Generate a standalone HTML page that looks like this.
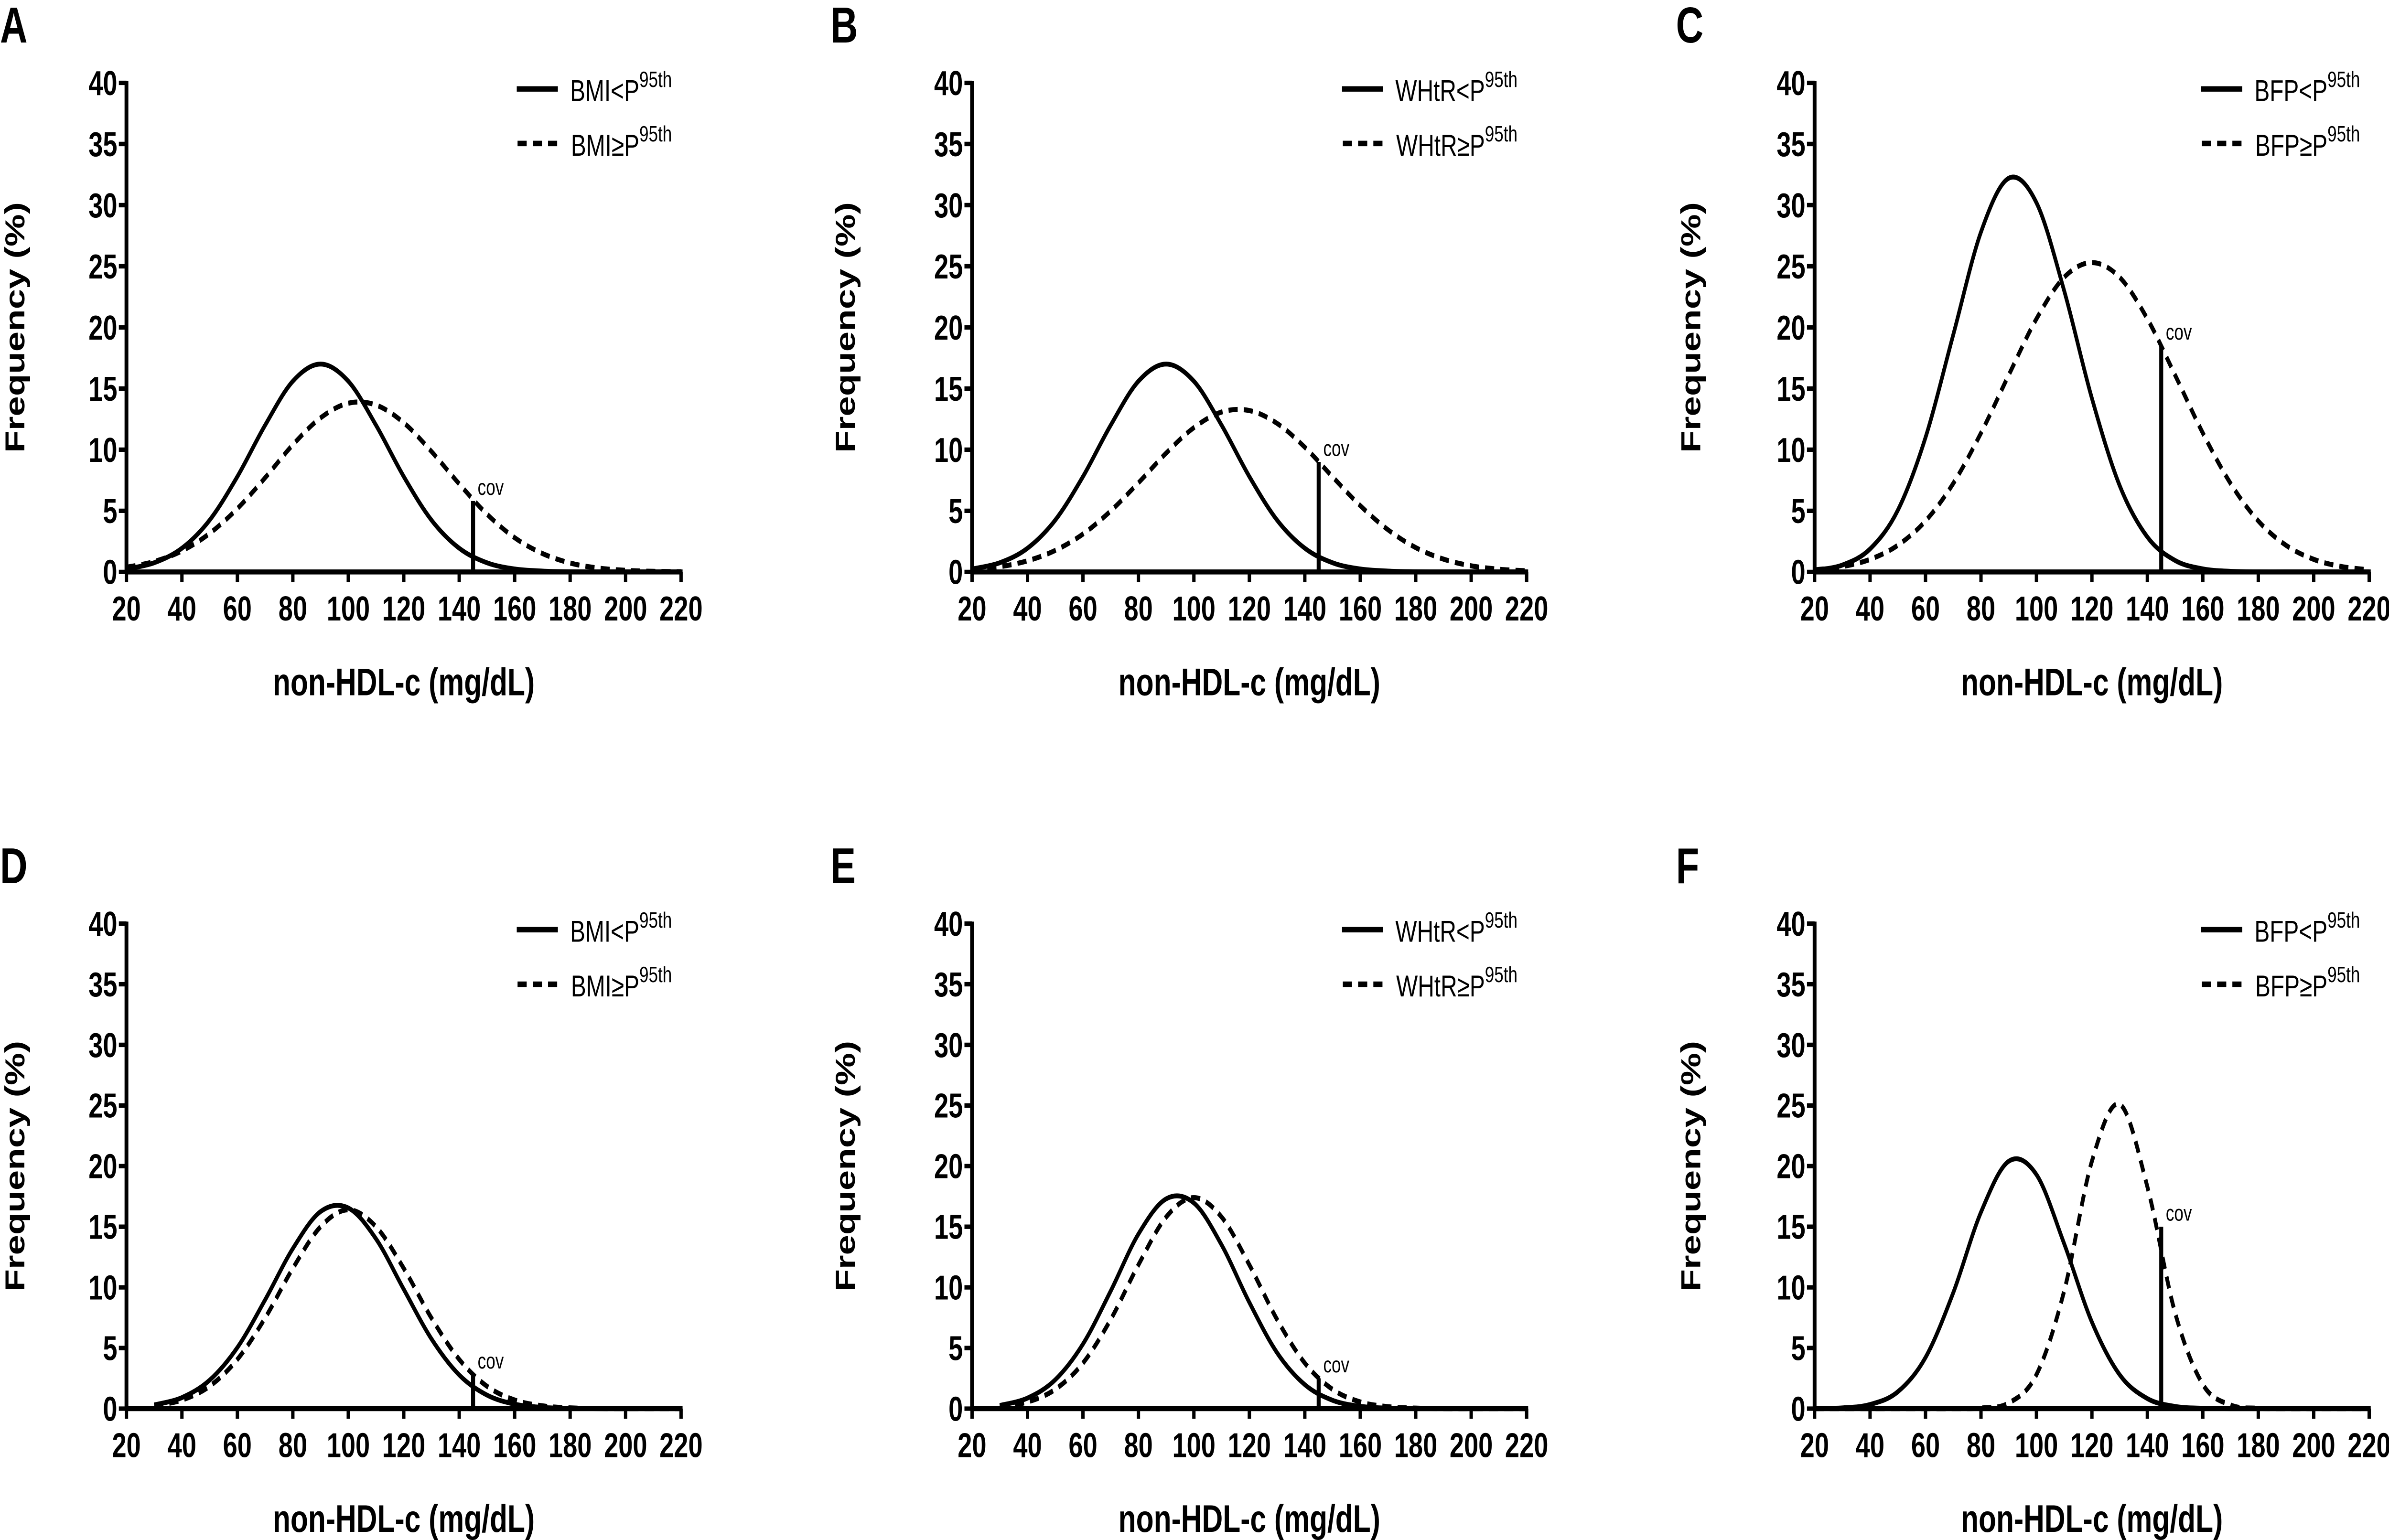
<!DOCTYPE html>
<html><head><meta charset="utf-8"><title>non-HDL-c frequency distributions</title>
<style>
html,body{margin:0;padding:0;background:#fff;width:100%;height:100%;overflow:hidden;}
#fig{display:block;width:100vw;height:100vh;position:absolute;left:0;top:0;}
text{fill:#000;}
.tick{font-family:"Liberation Sans Narrow","Liberation Sans",sans-serif;font-weight:bold;font-size:17px;}
.xt{font-family:"Liberation Sans Narrow","Liberation Sans",sans-serif;font-weight:bold;font-size:19px;}
.yt{font-family:"Liberation Sans",sans-serif;font-weight:bold;font-size:18px;}
.lt{font-family:"Liberation Sans",sans-serif;font-weight:bold;font-size:25px;}
.lg{font-family:"Liberation Sans Narrow","Liberation Sans",sans-serif;font-size:15px;}
.cov{font-family:"Liberation Sans Narrow","Liberation Sans",sans-serif;font-size:11px;}
</style></head>
<body>
<svg id="fig" viewBox="0 0 1568 762" preserveAspectRatio="none" xmlns="http://www.w3.org/2000/svg"></svg>
<script>
// ---- data ----
const xTicks = [20,40,60,80,100,120,140,160,180,200,220];
const yTicks = [0,5,10,15,20,25,30,35,40];
const xGrid = [20,30,40,50,60,70,80,90,100,110,120,130,140,150,160,170,180,190,200,210,220];
const xGridD = [30,40,50,60,70,80,90,100,110,120,130,140,150,160,170,180,190,200,210,220];
const panelLetters = ["A","B","C","D","E","F"];
const legendSolid = ["BMI<P","WHtR<P","BFP<P","BMI<P","WHtR<P","BFP<P"];
const legendDashed = ["BMI\u2265P","WHtR\u2265P","BFP\u2265P","BMI\u2265P","WHtR\u2265P","BFP\u2265P"];
const covX = 145;
const covTop = [5.8, 9.0, 18.5, 2.8, 2.5, 15.0];
const solidA = [0.24,0.75,1.94,4.24,7.8,12.0,15.6,17.0,15.6,12.0,7.8,4.24,1.94,0.75,0.24,0.07,0.01,0,0,0,0];
const dashedA = [0.38,0.85,1.72,3.15,5.18,7.7,10.4,12.6,13.8,13.65,12.2,9.85,7.2,4.73,2.8,1.51,0.73,0.32,0.13,0.05,0.02];
const solidB = [0.24,0.75,1.94,4.24,7.8,12.0,15.6,17.0,15.6,12.0,7.8,4.24,1.94,0.75,0.24,0.07,0.01,0,0,0,0];
const dashedB = [0.19,0.43,0.91,1.76,3.1,4.99,7.29,9.72,11.8,13.08,13.2,12.15,10.2,7.78,5.42,3.45,1.99,1.05,0.5,0.22,0.09];
const solidC = [0.14,0.56,1.88,5.04,11.0,19.4,27.8,32.2,30.2,23.0,14.2,7.07,2.86,0.94,0.25,0.05,0,0,0,0,0];
const dashedC = [0.17,0.44,1.03,2.18,4.17,7.24,11.36,16.1,20.7,24.1,25.3,24.1,20.7,16.1,11.36,7.24,4.17,2.18,1.03,0.44,0.17];
const solidD = [0.3,0.91,2.35,5.04,8.97,13.2,16.25,16.55,14.0,9.84,5.75,2.78,1.12,0.37,0.1,0.02,0,0,0,0];
const dashedD = [0.23,0.71,1.85,4.06,7.47,11.57,15.0,16.4,15.0,11.57,7.47,4.06,1.85,0.71,0.23,0.06,0.01,0,0,0];
const solidE = [0.26,0.87,2.38,5.33,9.7,14.4,17.3,16.96,13.5,8.76,4.61,1.98,0.69,0.19,0.04,0,0,0,0,0];
const dashedE = [0.16,0.55,1.59,3.76,7.35,11.86,15.8,17.4,15.8,11.86,7.35,3.76,1.59,0.55,0.16,0.04,0,0,0,0];
const solidF = [0.01,0.06,0.34,1.39,4.22,9.56,16.2,20.4,19.3,13.6,7.14,2.8,0.83,0.18,0.03,0,0,0,0,0,0];
const dashedF = [0,0,0,0,0,0,0.05,0.46,2.8,9.7,20.4,25.1,18.3,7.9,2.0,0.3,0.03,0,0,0,0];

const series = [
  [xGrid, solidA, dashedA],[xGrid, solidB, dashedB],[xGrid, solidC, dashedC],
  [xGridD, solidD, dashedD],[xGridD, solidE, dashedE],[xGrid, solidF, dashedF]
];

// ---- layout ----
const NS = "http://www.w3.org/2000/svg";
const svg = document.getElementById("fig");
const colX = [83, 638, 1191];
const rowY = [[41,283],[457,697]];
const letterX = [0, 545, 1100];
const letterY = [21, 437];
const axisW = 364;

function mk(tag, attrs, parent){
  const e = document.createElementNS(NS, tag);
  for (const k in attrs) e.setAttribute(k, attrs[k]);
  (parent||svg).appendChild(e);
  return e;
}
function pathFrom(pts){
  let d = "M"+pts[0][0].toFixed(2)+","+pts[0][1].toFixed(2);
  for (let i=0;i<pts.length-1;i++){
    const p0=pts[Math.max(0,i-1)], p1=pts[i], p2=pts[i+1], p3=pts[Math.min(pts.length-1,i+2)];
    const c1x=p1[0]+(p2[0]-p0[0])/6, c1y=p1[1]+(p2[1]-p0[1])/6;
    const c2x=p2[0]-(p3[0]-p1[0])/6, c2y=p2[1]-(p3[1]-p1[1])/6;
    d += " C"+c1x.toFixed(2)+","+c1y.toFixed(2)+" "+c2x.toFixed(2)+","+c2y.toFixed(2)+" "+p2[0].toFixed(2)+","+p2[1].toFixed(2);
  }
  return d;
}

for (let p=0;p<6;p++){
  const col=p%3, row=Math.floor(p/3);
  const x0=colX[col], yTop=rowY[row][0], yBot=rowY[row][1];
  const sx = v => x0 + (v-20)/200*axisW;
  const sy = v => yBot - v/40*(yBot-yTop);
  const g = mk("g",{});
  
  

  const lt = mk("text",{x:letterX[col], y:letterY[row], class:"lt"}, g);
  lt.textContent = panelLetters[p];
  
  

  const ya = mk("line",{x1:x0,y1:yTop-1,x2:x0,y2:yBot+1,stroke:"#000","stroke-width":2.5}, g);
  
  
  const xa = mk("line",{x1:x0-1,y1:yBot,x2:x0+axisW+1,y2:yBot,stroke:"#000","stroke-width":2.5}, g);
  
  

  yTicks.forEach(v=>{
    mk("line",{x1:x0-5,y1:sy(v),x2:x0,y2:sy(v),stroke:"#000","stroke-width":2.2}, g);
    const t = mk("text",{x:x0-6,y:sy(v)+6,"text-anchor":"end",class:"tick"}, g);
    t.textContent = v;
    
    
  });
  xTicks.forEach(v=>{
    mk("line",{x1:sx(v),y1:yBot,x2:sx(v),y2:yBot+5,stroke:"#000","stroke-width":2.2}, g);
    const t = mk("text",{x:sx(v),y:yBot+24,"text-anchor":"middle",class:"tick"}, g);
    t.textContent = v;
    
    
  });

  const xt = mk("text",{x:x0+axisW/2,y:yBot+61,"text-anchor":"middle",class:"xt"}, g);
  xt.textContent = "non-HDL-c (mg/dL)";
  
  
  const ycx = letterX[col]+16, ycy=(yTop+yBot)/2;
  const yt = mk("text",{x:ycx,y:ycy,"text-anchor":"middle",class:"yt",transform:"rotate(-90 "+ycx+" "+ycy+")"}, g);
  yt.textContent = "Frequency (%)";
  
  

  const [xs, sv, dv] = series[p];
  const sPts = xs.map((x,i)=>[sx(x), Math.min(sy(0), sy(sv[i]))]);
  const dPts = xs.map((x,i)=>[sx(x), Math.min(sy(0), sy(dv[i]))]);
  const sc = mk("path",{d:pathFrom(sPts),fill:"none",stroke:"#000","stroke-width":2.4}, g);
  
  
  const dc = mk("path",{d:pathFrom(dPts),fill:"none",stroke:"#000","stroke-width":2.5,"stroke-dasharray":"6 4"}, g);
  
  

  const cl = mk("line",{x1:sx(covX),y1:sy(0),x2:sx(covX),y2:sy(covTop[p]),stroke:"#000","stroke-width":2.6}, g);
  
  
  const ct = mk("text",{x:sx(covX)+3,y:sy(covTop[p])-3,class:"cov"}, g);
  ct.textContent = "cov";
  
  

  const tEnd = x0+axisW-6;
  [[legendSolid[p], 0, null],[legendDashed[p], 27, "6 4"]].forEach(([lab,dy,dash])=>{
    const ly = yTop + 3 + dy;
    const tx = mk("text",{x:tEnd,y:ly+6,"text-anchor":"end",class:"lg"}, g);
    
    
    tx.textContent = lab;
    const sup = mk("tspan",{dy:-7,"font-size":11}, tx);
    sup.textContent = "95th";
    const w = tx.getComputedTextLength ? tx.getComputedTextLength() : 70;
    const start = tEnd - w;
    const ll = mk("line",{x1:start-35,y1:ly,x2:start-8,y2:ly,stroke:"#000","stroke-width":2.7}, g);
    if (dash) ll.setAttribute("stroke-dasharray", dash);
    
    
  });
}
</script>
</body></html>
